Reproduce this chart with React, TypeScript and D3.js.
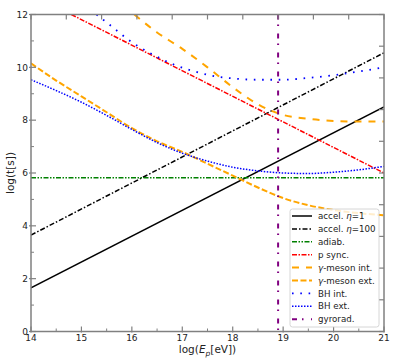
import React from 'react';
import * as d3 from 'd3';

// log10 of proton energy vs log10 of timescale
const accelE = [14, 21];
const accelEta1 = [1.65, 8.5];
const accelEta100 = [3.65, 10.55];

const adiabE = [14, 21];
const adiab = [5.82, 5.82];

const pSyncE = [14.8, 21];
const pSync = [12.0, 6.0];

const gammaIntE = [16.05, 16.5, 17, 17.5, 18, 18.5, 19, 19.5, 20, 20.5, 21];
const gammaInt = [12.0, 11.32, 10.7, 10.0, 9.25, 8.6, 8.2, 8.05, 7.97, 7.95, 7.95];

const gammaExtE = [14, 14.5, 15, 15.5, 16, 16.5, 17, 17.5, 18, 18.5, 19, 19.5, 20, 20.5, 21];
const gammaExt = [10.15, 9.5, 8.9, 8.3, 7.7, 7.2, 6.8, 6.35, 5.9, 5.45, 5.05, 4.78, 4.6, 4.48, 4.4];

const bhIntE = [15.3, 15.6, 16, 16.4, 16.8, 17.2, 17.6, 18, 18.5, 19, 19.5, 20, 20.5, 21];
const bhInt = [12.0, 11.55, 10.95, 10.5, 10.13, 9.87, 9.68, 9.58, 9.53, 9.53, 9.6, 9.7, 9.84, 10.0];

const bhExtE = [14, 14.5, 15, 15.5, 16, 16.5, 17, 17.5, 18, 18.5, 19, 19.5, 20, 20.5, 21];
const bhExt = [9.53, 9.12, 8.68, 8.18, 7.65, 7.15, 6.75, 6.45, 6.22, 6.08, 6.0, 5.98, 6.03, 6.12, 6.25];

const gyroE = 18.9;

const xTicks = [14, 15, 16, 17, 18, 19, 20, 21];
const yTicks = [0, 2, 4, 6, 8, 10, 12];

const W = 415;
const H = 363;
const left = 31, right = 384, top = 14.5, bottom = 331.5;
const FONT = 'DejaVu Sans, sans-serif';
const AXIS = '#808080';

const x = d3.scaleLinear().domain([14, 21]).range([left, right]);
const y = d3.scaleLinear().domain([0, 12]).range([bottom, top]);

const line = d3.line<[number, number]>()
  .x((d) => x(d[0]))
  .y((d) => y(d[1]))
  .curve(d3.curveMonotoneX);

const zip = (a: number[], b: number[]) => a.map((v, i) => [v, b[i]] as [number, number]);

const series = [
  { key: 'eta1', label: ['accel. ', 'η', '=1'], pts: zip(accelE, accelEta1), color: '#000', w: 1.5, dash: '' },
  { key: 'eta100', label: ['accel. ', 'η', '=100'], pts: zip(accelE, accelEta100), color: '#000', w: 1.5, dash: '5 2 1.5 2' },
  { key: 'adiab', label: ['adiab.'], pts: zip(adiabE, adiab), color: '#008000', w: 1.5, dash: '5 1.5 1.5 1.5 1.5 1.5' },
  { key: 'psync', label: ['p sync.'], pts: zip(pSyncE, pSync), color: '#ff0000', w: 1.5, dash: '5 1.5 1.5 1.5' },
  { key: 'gint', label: ['γ', '-meson int.'], pts: zip(gammaIntE, gammaInt), color: '#ffa500', w: 2, dash: '7 7' },
  { key: 'gext', label: ['γ', '-meson ext.'], pts: zip(gammaExtE, gammaExt), color: '#ffa500', w: 2, dash: '6 2.5' },
  { key: 'bhint', label: ['BH int.'], pts: zip(bhIntE, bhInt), color: '#0000ff', w: 1.8, dash: '1.6 6.7' },
  { key: 'bhext', label: ['BH ext.'], pts: zip(bhExtE, bhExt), color: '#0000ff', w: 1.5, dash: '1.5 1.5' },
];

const gyroStyle = { color: '#800080', w: 2, dash: '5 5 1.5 7.5' };

export default function App() {
  const rightTicks = d3.range(0, 11).map((i) => bottom - (i * (bottom - top)) / 10);
  const topTicks = d3.range(0, 11).map((i) => left + (i * (right - left)) / 10);
  const xMinor = d3.range(14.5, 21, 1);
  const yMinor = d3.range(1, 12, 2);
  const legendRows = [...series.map((s) => ({ label: s.label, color: s.color, w: s.w, dash: s.dash })),
    { label: ['gyrorad.'], color: gyroStyle.color, w: gyroStyle.w, dash: gyroStyle.dash }];

  return (
    <svg width={W} height={H} style={{ position: 'absolute', left: 0, top: 0, background: '#fff' }} fontFamily={FONT}>
      <defs>
        <clipPath id="plot">
          <rect x={left} y={top} width={right - left} height={bottom - top} />
        </clipPath>
      </defs>

      <g clipPath="url(#plot)">
        {series.map((s) => (
          <path key={s.key} d={line(s.pts) || ''} fill="none" stroke={s.color}
            strokeWidth={s.w} strokeDasharray={s.dash || undefined} />
        ))}
        <line x1={x(gyroE)} x2={x(gyroE)} y1={top} y2={bottom} stroke={gyroStyle.color}
          strokeWidth={gyroStyle.w} strokeDasharray={gyroStyle.dash} />
      </g>

      {/* frame */}
      <rect x={left} y={top} width={right - left} height={bottom - top} fill="none" stroke={AXIS} strokeWidth={1.5} />

      {/* bottom axis */}
      {xTicks.map((t) => (
        <g key={'xt' + t}>
          <line x1={x(t)} x2={x(t)} y1={bottom + 1} y2={bottom - 5} stroke={AXIS} strokeWidth={1.2} />
          <text x={x(t)} y={bottom + 9} fontSize={9} textAnchor="middle" fill="#222">{t}</text>
        </g>
      ))}
      {xMinor.map((t) => (
        <line key={'xm' + t} x1={x(t)} x2={x(t)} y1={bottom} y2={bottom - 3} stroke={AXIS} strokeWidth={1} />
      ))}

      {/* left axis */}
      {yTicks.map((t) => (
        <g key={'yt' + t}>
          <line x1={left - 2} x2={left + 5} y1={y(t)} y2={y(t)} stroke={AXIS} strokeWidth={1.2} />
          <text x={left - 3} y={y(t) + 3.3} fontSize={9} textAnchor="end" fill="#222">{t}</text>
        </g>
      ))}
      {yMinor.map((t) => (
        <line key={'ym' + t} x1={left} x2={left + 3} y1={y(t)} y2={y(t)} stroke={AXIS} strokeWidth={1} />
      ))}

      {/* twin top/right ticks */}
      {topTicks.map((px, i) => (
        <line key={'tt' + i} x1={px} x2={px} y1={top} y2={top + 5} stroke={AXIS} strokeWidth={1.2} />
      ))}
      {rightTicks.map((py, i) => (
        <line key={'rt' + i} x1={right} x2={right - 5} y1={py} y2={py} stroke={AXIS} strokeWidth={1.2} />
      ))}

      {/* axis labels */}
      <text transform={`translate(13.5, ${(top + bottom) / 2}) rotate(-90)`} fontSize={10.5} textAnchor="middle" fill="#222">
        log(t[s])
      </text>
      <text x={(left + right) / 2} y={353} fontSize={10.5} textAnchor="middle" fill="#222">
        log(<tspan fontStyle="italic">E</tspan><tspan fontStyle="italic" fontSize={7.5} dy={2.5}>p</tspan><tspan dy={-2.5}>[eV])</tspan>
      </text>

      {/* legend */}
      <g>
        <rect x={290} y={209} width={89} height={118} rx={2.5} fill="#fff" fillOpacity={0.8} stroke="#ccc" strokeWidth={0.8} />
        {legendRows.map((r, i) => {
          const ry = 216 + i * 12.9;
          return (
            <g key={'lg' + i}>
              <line x1={292} x2={312} y1={ry} y2={ry} stroke={r.color} strokeWidth={r.w}
                strokeDasharray={r.dash || undefined} />
              <text x={318} y={ry + 3.1} fontSize={8.7} fill="#222">
                {r.label.map((part, j) => (
                  <tspan key={j} fontStyle={part === 'η' || part === 'γ' ? 'italic' : undefined}>{part}</tspan>
                ))}
              </text>
            </g>
          );
        })}
      </g>
    </svg>
  );
}
